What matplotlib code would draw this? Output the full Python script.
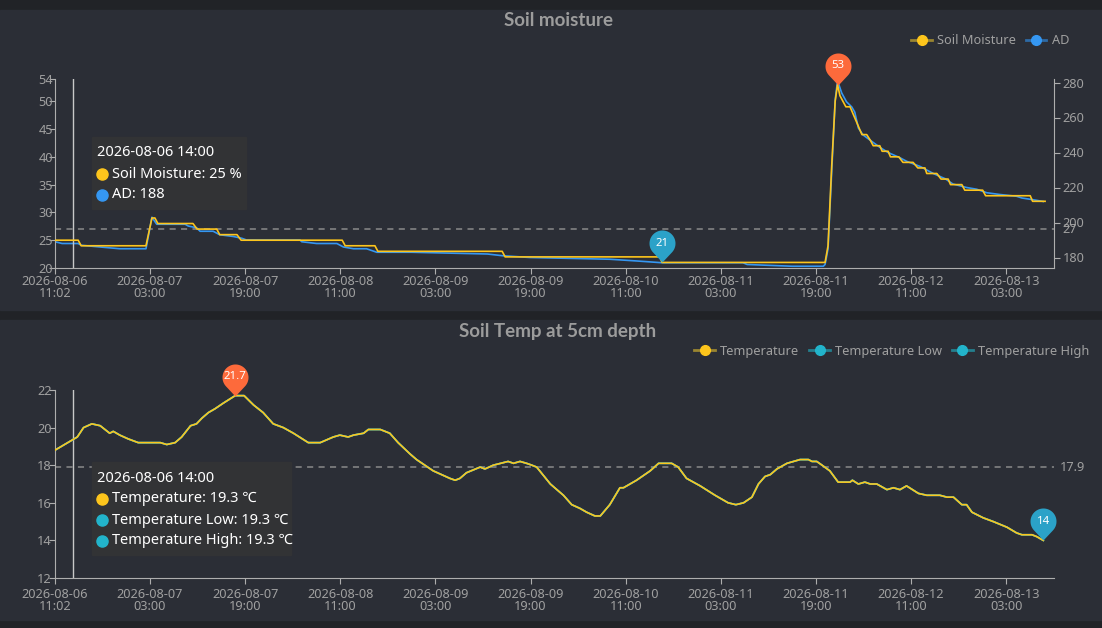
import numpy as np
import pandas as pd
import matplotlib
matplotlib.use('Agg')
import matplotlib.pyplot as plt
from matplotlib.path import Path
from matplotlib.patches import Rectangle
from matplotlib.lines import Line2D

plt.rcParams['font.family'] = ['Noto Sans', 'DejaVu Sans']

START = pd.Timestamp('2026-08-06 11:02')
END = START + pd.Timedelta(days=7)

# soil moisture (%), hours after START
moist_hours = [0, 3.9, 4.4, 15.3, 16.3, 16.8, 17.3, 23.2, 23.9, 27.2,
               27.7, 30.6, 31.3, 48.3, 48.8, 53.8, 54.3, 75.2, 75.7, 101.7,
               102.1, 129.5, 130.0, 130.6, 131.2, 131.6, 132.0, 133.0, 133.7, 134.5,
               135.3, 135.7, 136.5, 137.1, 137.6, 138.7, 139.1, 140.1, 140.5, 141.9,
               142.6, 144.3, 145.1, 146.3, 146.6, 148.3, 149.0, 150.2, 150.6, 152.5,
               153.0, 156.0, 156.5, 164.0, 164.4, 166.5]
moist_values = [25, 25, 24, 24, 29, 29, 28, 28, 27, 27,
                26, 26, 25, 25, 24, 24, 23, 23, 22, 22,
                21, 21, 24, 38, 50, 53, 51, 49, 49, 47,
                45, 44, 44, 43, 42, 42, 41, 41, 40, 40,
                39, 39, 38, 38, 37, 37, 36, 36, 35, 35,
                34, 34, 33, 33, 32, 32]

# raw AD reading
ad_hours = [0, 1.2, 3.9, 4.4, 7.6, 10.9, 15.3, 16.3, 17.1, 21.9,
            22.4, 23.8, 24.4, 26.6, 27.7, 30.0, 31.4, 32.2, 41.2, 41.5,
            44.0, 47.4, 48.5, 50.2, 52.4, 54.1, 59.9, 72.7, 75.3, 79.9,
            93.3, 97.9, 102.1, 115.7, 116.4, 124.0, 129.2, 129.5, 130.0, 130.6,
            131.2, 131.6, 132.3, 133.1, 134.0, 134.5, 135.1, 135.9, 137.1, 138.7,
            140.1, 142.1, 143.2, 145.5, 147.7, 149.7, 151.0, 153.3, 155.0, 156.7,
            158.9, 161.7, 162.6, 164.5, 166.2]
ad_values = [189, 188, 188, 187, 186, 185, 185, 203, 199, 199,
             198, 197, 195, 195, 193, 192, 191, 190, 190, 189,
             188, 188, 186, 185, 185, 183, 183, 182, 181, 180,
             179, 178, 177, 177, 176, 175, 175, 176, 185, 228,
             270, 281, 274, 269, 266, 263, 254, 250, 247, 243,
             240, 237, 235, 232, 228, 225, 222, 220, 219, 217,
             216, 215, 214, 213, 212]

# soil temperature at 5cm (°C)
temp_hours = [0, 3.75, 4.8, 6.2, 7.6, 9.2, 9.8, 10.9, 12.3, 14.0,
              17.7, 18.8, 20.2, 21.3, 22.8, 23.8, 24.7, 25.8, 26.9, 28.3,
              30.3, 31.8, 33.4, 35.0, 36.7, 38.4, 40.1, 42.6, 44.6, 46.8,
              47.9, 49.3, 50.2, 51.9, 52.7, 54.7, 56.3, 57.7, 59.7, 60.8,
              63.6, 66.4, 67.3, 68.1, 69.2, 71.5, 72.3, 73.7, 76.2, 77.1,
              78.2, 79.3, 80.2, 81.0, 83.3, 85.5, 86.9, 88.3, 89.4, 90.8,
              91.7, 93.3, 95.0, 95.6, 97.8, 100.1, 101.5, 103.7, 104.8, 106.2,
              108.5, 111.0, 113.2, 114.5, 115.8, 117.2, 118.3, 119.4, 120.3, 121.4,
              123.1, 125.3, 126.7, 127.3, 128.1, 129.0, 130.3, 131.7, 133.7, 134.1,
              135.1, 136.2, 137.1, 138.2, 139.9, 141.0, 142.1, 143.2, 145.2, 146.6,
              148.8, 150.0, 151.1, 152.5, 153.3, 154.2, 156.1, 157.8, 160.1, 161.7,
              162.6, 164.3, 165.1, 166.2]
temp_values = [18.8, 19.5, 20.0, 20.2, 20.1, 19.7, 19.8, 19.6, 19.4, 19.2,
               19.2, 19.1, 19.2, 19.5, 20.1, 20.2, 20.5, 20.8, 21.0, 21.3,
               21.7, 21.7, 21.2, 20.8, 20.2, 20.0, 19.7, 19.2, 19.2, 19.5,
               19.6, 19.5, 19.6, 19.7, 19.9, 19.9, 19.7, 19.2, 18.6, 18.3,
               17.7, 17.3, 17.2, 17.3, 17.6, 17.9, 17.8, 18.0, 18.2, 18.1,
               18.2, 18.1, 18.0, 17.9, 17.0, 16.4, 15.9, 15.7, 15.5, 15.3,
               15.3, 15.9, 16.8, 16.8, 17.2, 17.7, 18.1, 18.1, 17.9, 17.3,
               16.9, 16.4, 16.0, 15.9, 16.0, 16.3, 17.0, 17.4, 17.5, 17.8,
               18.1, 18.3, 18.3, 18.2, 18.2, 18.0, 17.7, 17.1, 17.1, 17.2,
               17.0, 17.1, 17.0, 17.0, 16.7, 16.8, 16.7, 16.9, 16.5, 16.4,
               16.4, 16.3, 16.3, 15.9, 15.9, 15.5, 15.2, 15.0, 14.7, 14.4,
               14.3, 14.3, 14.2, 14.0]
temp_low = temp_values
temp_high = temp_values

moist_avg = 27
temp_avg = 17.9
cursor_time = pd.Timestamp('2026-08-06 14:00')

YELLOW = '#fdc51c'
BLUE = '#3597f2'
TEAL = '#22b4cb'
ORANGE = '#fd6a3b'
PIN_TEAL = '#2ba2c8'
GREY = '#a0a0a0'
AXIS = '#aeaeae'
FS = 9.2

W, H = 1102, 628
fig = plt.figure(figsize=(W / 100, H / 100), dpi=100, facecolor='#212327')


def fx(x):
    return x / W


def fy(y):
    return 1 - y / H


def to_time(hours):
    return START + pd.to_timedelta(np.array(hours), unit='h')


# panel backgrounds
for top, bot in [(10, 310), (320, 620)]:
    fig.add_artist(Rectangle((0, fy(bot)), 1, (bot - top) / H, transform=fig.transFigure,
                             color='#2b2e36', zorder=-5))

# balloon shaped marker, tip at origin
r, c = 13, 19
th = np.degrees(np.arccos(r / c))
ang = np.radians(np.linspace(-90 + th, 270 - th, 40))
verts = np.column_stack([r * np.cos(ang), c + r * np.sin(ang)])
verts = np.vstack([[0, 0], verts, [0, 0]])
PIN = Path(verts, [Path.MOVETO] + [Path.LINETO] * (len(verts) - 2) + [Path.CLOSEPOLY])
PIN_SIZE = 2 * (c + r) * 0.72


def pin(ax, t, v, label, color):
    ax.plot([t], [v], marker=PIN, markersize=PIN_SIZE, color=color, markeredgewidth=0,
            linestyle='none', clip_on=False, zorder=6)
    ax.annotate(label, (t, v), xytext=(0, c * 0.72), textcoords='offset points',
                ha='center', va='center', color='white', fontsize=8.2, zorder=7,
                annotation_clip=False)


ticks = [START] + list(pd.date_range('2026-08-07 03:00', periods=10, freq='16h'))
tick_labels = [t.strftime('%Y-%m-%d\n%H:%M') for t in ticks]


def style_x(ax):
    ax.set_xlim(START, END)
    ax.set_xticks(ticks)
    ax.set_xticklabels(tick_labels, linespacing=0.95)
    ax.tick_params(axis='x', colors=AXIS, labelcolor=GREY, labelsize=FS, length=4, pad=1)
    ax.spines['bottom'].set_color(AXIS)
    ax.spines['top'].set_visible(False)
    ax.patch.set_alpha(0)


# ---------- top chart ----------
ax1 = fig.add_axes([fx(55), fy(268), 999 / W, 189 / H])
ax1r = ax1.twinx()
mt = to_time(moist_hours)
at = to_time(ad_hours)
ax1r.plot(at, ad_values, color=BLUE, lw=1.2, zorder=2)
ax1.plot(mt, moist_values, color=YELLOW, lw=1.2, zorder=3)
ax1.set_zorder(ax1r.get_zorder() + 1)
ax1.set_ylim(20, 54)
ax1.set_yticks([20, 25, 30, 35, 40, 45, 50, 54])
ax1r.set_ylim(174, 282)
ax1r.set_yticks([180, 200, 220, 240, 260, 280])
style_x(ax1)
ax1.spines['right'].set_visible(False)
ax1.spines['left'].set_color(AXIS)
for s in ['left', 'top', 'bottom']:
    ax1r.spines[s].set_visible(False)
ax1r.spines['right'].set_color(AXIS)
ax1.tick_params(axis='y', colors=AXIS, labelcolor=GREY, labelsize=FS, length=4, pad=-2.5)
ax1r.tick_params(axis='y', colors=AXIS, labelcolor=GREY, labelsize=FS, length=4, pad=2)
ax1.axhline(moist_avg, color='#8a8a8a', lw=1.1, dashes=(4, 3.5), zorder=1)
ax1.text(1.008, moist_avg, f'{moist_avg}', transform=ax1.get_yaxis_transform(),
         color=GREY, fontsize=FS, va='center', ha='left')
ax1.axvline(cursor_time, color='#c8c8c8', lw=1, zorder=1)
imax = int(np.argmax(moist_values))
imin = int(np.argmin(moist_values))
pin(ax1, mt[imax], moist_values[imax], f'{moist_values[imax]}', ORANGE)
pin(ax1, mt[imin], moist_values[imin], f'{moist_values[imin]}', PIN_TEAL)

# ---------- bottom chart ----------
ax2 = fig.add_axes([fx(55), fy(578), 999 / W, 188 / H])
tt = to_time(temp_hours)
ax2.plot(tt, temp_low, color=TEAL, lw=1.2, zorder=2)
ax2.plot(tt, temp_high, color=TEAL, lw=1.2, zorder=2)
ax2.plot(tt, temp_values, color=YELLOW, lw=1.2, zorder=3)
ax2.set_ylim(12, 22)
ax2.set_yticks([12, 14, 16, 18, 20, 22])
style_x(ax2)
ax2.spines['right'].set_visible(False)
ax2.spines['left'].set_color(AXIS)
ax2.tick_params(axis='y', colors=AXIS, labelcolor=GREY, labelsize=FS, length=4, pad=-1.5)
ax2.tick_params(axis='x', pad=3)
ax2.axhline(temp_avg, color='#8a8a8a', lw=1.1, dashes=(4, 3.5), zorder=1)
ax2.text(1.006, temp_avg, f'{temp_avg}', transform=ax2.get_yaxis_transform(),
         color=GREY, fontsize=FS, va='center', ha='left')
ax2.axvline(cursor_time, color='#c8c8c8', lw=1, zorder=1)
tmax = int(np.argmax(temp_values))
tmin = int(np.argmin(temp_values))
pin(ax2, tt[tmax], temp_values[tmax], f'{temp_values[tmax]}', ORANGE)
pin(ax2, tt[tmin], temp_values[tmin], f'{temp_values[tmin]:g}', PIN_TEAL)

# ---------- titles ----------
title_kw = dict(ha='center', va='center', fontsize=13.5, fontweight='bold', color='#9c9c9c',
                family=['Lato', 'DejaVu Sans'])
fig.text(fx(558), fy(21), 'Soil moisture', **title_kw)
fig.text(fx(558), fy(332), 'Soil Temp at 5cm depth', **title_kw)


# ---------- legends ----------
def handle(col, dark):
    return Line2D([], [], color=dark, lw=2, marker='o', markersize=7,
                  markerfacecolor=col, markeredgecolor=col)


leg_kw = dict(frameon=False, fontsize=FS, labelcolor=GREY, handlelength=1.6,
              handletextpad=0.4, columnspacing=0.8, borderpad=0, borderaxespad=0,
              loc='center right')
fig.legend([handle(YELLOW, '#9a8530'), handle(BLUE, '#2d6aa6')], ['Soil Moisture', 'AD'],
           ncol=2, bbox_to_anchor=(fx(1069), fy(41)), **leg_kw)
fig.legend([handle(YELLOW, '#9a8530'), handle(TEAL, '#247f8e'), handle(TEAL, '#247f8e')],
           ['Temperature', 'Temperature Low', 'Temperature High'],
           ncol=3, bbox_to_anchor=(fx(1089), fy(351)), **leg_kw)


# ---------- tooltips ----------
def tooltip(x0, y0, x1, y1, header, rows):
    fig.add_artist(Rectangle((fx(x0), fy(y1)), (x1 - x0) / W, (y1 - y0) / H,
                             transform=fig.transFigure, color='#323335', zorder=8))
    fig.text(fx(97), fy(y0 + 16), header, color='white', fontsize=10.5, va='center', zorder=9)
    for k, (col, txt) in enumerate(rows):
        yy = y0 + 37 + 21 * k
        fig.add_artist(Line2D([fx(102)], [fy(yy)], marker='o', markersize=8, color=col,
                              transform=fig.transFigure, zorder=9))
        fig.text(fx(112), fy(yy), txt, color='white', fontsize=10.5, va='center', zorder=9)


tooltip(92, 137, 246, 209, '2026-08-06 14:00',
        [(YELLOW, 'Soil Moisture: 25 %'), (BLUE, 'AD: 188')])
tooltip(92, 462, 291, 555, '2026-08-06 14:00',
        [(YELLOW, 'Temperature: 19.3 ℃'), (TEAL, 'Temperature Low: 19.3 ℃'),
         (TEAL, 'Temperature High: 19.3 ℃')])

fig.savefig('out.png', dpi=100, facecolor=fig.get_facecolor())
